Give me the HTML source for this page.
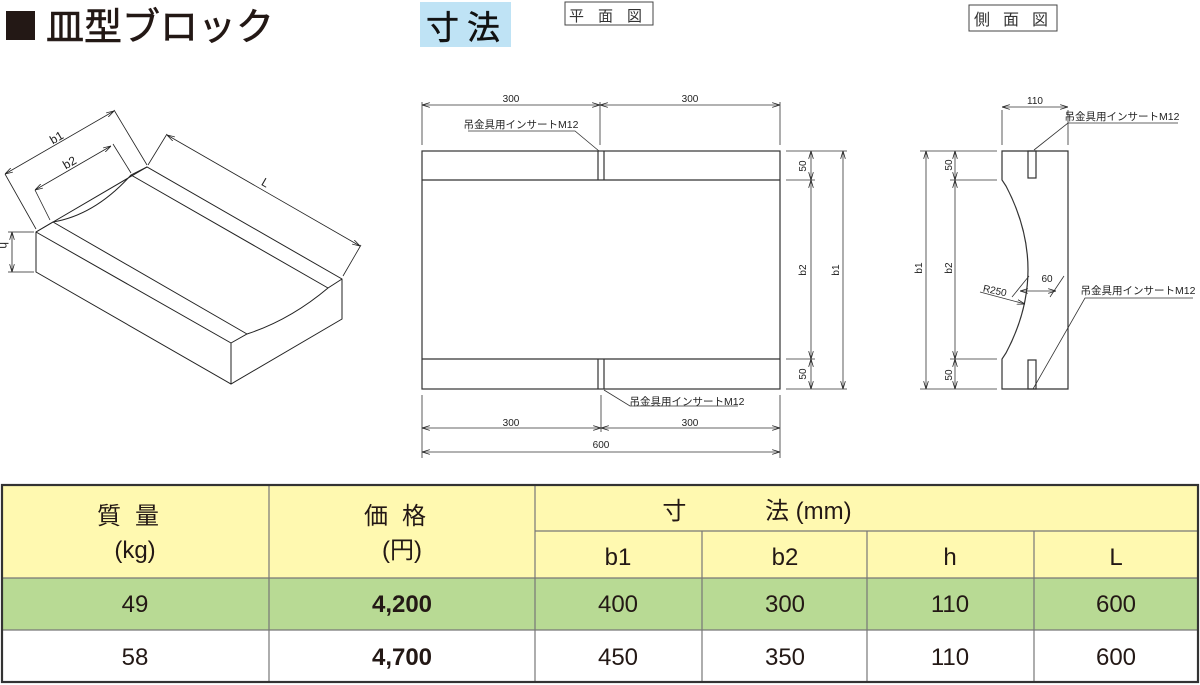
<!DOCTYPE html>
<html><head><meta charset="utf-8"><style>
body{margin:0;background:#fff;}
svg{display:block;font-family:"Liberation Sans","Noto Sans CJK JP",sans-serif;}
</style></head><body>
<svg width="1200" height="685" viewBox="0 0 1200 685" xmlns="http://www.w3.org/2000/svg">
<defs>
<marker id="a" viewBox="0 0 10 6" refX="10" refY="3" markerWidth="8" markerHeight="5" orient="auto-start-reverse" markerUnits="userSpaceOnUse"><path d="M0,0 L10,3 L0,6" fill="none" stroke="#222" stroke-width="1"/></marker>
</defs>
<!-- title -->
<rect x="6" y="11" width="29" height="29" fill="#231815"/>
<text x="46" y="40" font-size="38" fill="#231815" stroke="#231815" stroke-width="0.6">皿型ブロック</text>
<rect x="420" y="2" width="91" height="45" fill="#bfe3f5"/>
<text x="426" y="39" font-size="33" fill="#111" letter-spacing="8" stroke="#111" stroke-width="0.5">寸法</text>
<rect x="565" y="2" width="88" height="23" fill="none" stroke="#444" stroke-width="1"/>
<text x="569" y="21" font-size="15" fill="#333" letter-spacing="14">平面図</text>
<rect x="969" y="5" width="88" height="26" fill="none" stroke="#444" stroke-width="1"/>
<text x="974" y="25" font-size="16" fill="#333" letter-spacing="13">側面図</text>

<!-- isometric block -->
<g fill="none" stroke="#222" stroke-width="1">
<path d="M36,232 L147,167 L342,279 L342,319 L231,384 L36,272 Z"/>
<path d="M36,232 L231,343 L231,384"/>
<path d="M231,343 L247,334 Q290,320 328,288 L342,279"/>
<path d="M36,232 L53,222 Q95,215 131,175 L147,167"/>
<path d="M53,222 L247,334 M131,175 L328,288"/>
<g stroke-width="0.8">
<path d="M36,229 L5,174 M147,165 L114,110"/>
<path d="M5,174 L114,111" marker-start="url(#a)" marker-end="url(#a)"/>
<path d="M50,220 L35,190 M131,173 L113,144"/>
<path d="M35,190 L111,146" marker-start="url(#a)" marker-end="url(#a)"/>
<path d="M148,165 L167,134 M343,276 L361,245"/>
<path d="M167,135 L360,246" marker-start="url(#a)" marker-end="url(#a)"/>
<path d="M8,232 L34,232 M8,272 L34,272"/>
<path d="M12,232 L12,272" marker-start="url(#a)" marker-end="url(#a)"/>
</g>
</g>
<g font-size="12" fill="#222">
<text x="50" y="142" transform="rotate(-30 56 138)">b1</text>
<text x="63" y="167" transform="rotate(-30 69 163)">b2</text>
<text x="262" y="187" transform="rotate(30 266 183)">L</text>
<text x="0" y="250" transform="rotate(90 4 246)">h</text>
</g>

<!-- plan view -->
<g fill="none" stroke="#333" stroke-width="1.2">
<rect x="422" y="151" width="358" height="238"/>
<path d="M422,180 H780 M422,359 H780"/>
<path d="M598,151 V180 M604,151 V180 M598,359 V389 M604,359 V389"/>
</g>
<g fill="none" stroke="#333" stroke-width="0.8">
<path d="M422,102 V145 M600,102 V145 M780,102 V145"/>
<path d="M422,105 H600" marker-start="url(#a)" marker-end="url(#a)"/>
<path d="M600,105 H780" marker-start="url(#a)" marker-end="url(#a)"/>
<path d="M468,131 H575 L599,151" />
<path d="M604,390 L630,406 H738"/>
<path d="M422,395 V458 M601,395 V432 M780,395 V458"/>
<path d="M422,428 H601" marker-start="url(#a)" marker-end="url(#a)"/>
<path d="M601,428 H780" marker-start="url(#a)" marker-end="url(#a)"/>
<path d="M422,452 H780" marker-start="url(#a)" marker-end="url(#a)"/>
<path d="M786,151 H847 M786,180 H815 M786,359 H815 M786,389 H847"/>
<path d="M811,151 V180" marker-start="url(#a)" marker-end="url(#a)"/>
<path d="M811,180 V359" marker-start="url(#a)" marker-end="url(#a)"/>
<path d="M811,359 V389" marker-start="url(#a)" marker-end="url(#a)"/>
<path d="M843,151 V389" marker-start="url(#a)" marker-end="url(#a)"/>
</g>
<g font-size="10" fill="#222" text-anchor="middle">
<text x="511" y="102">300</text><text x="690" y="102">300</text>
<text x="511" y="426">300</text><text x="690" y="426">300</text>
<text x="601" y="448">600</text>
<text x="806" y="166" transform="rotate(-90 806 166)">50</text>
<text x="806" y="374" transform="rotate(-90 806 374)">50</text>
<text x="806" y="270" transform="rotate(-90 806 270)">b2</text>
<text x="839" y="270" transform="rotate(-90 839 270)">b1</text>
<text x="521" y="128" font-size="10.5">吊金具用インサートM12</text>
<text x="687" y="405" font-size="10.5">吊金具用インサートM12</text>
</g>

<!-- side view -->
<g fill="none" stroke="#333" stroke-width="1.2">
<path d="M1002,151 H1068 V389 H1002 V359 L1006,353 Q1050,270 1006,186 L1002,180 Z"/>
<rect x="1028" y="151" width="8" height="27"/>
<rect x="1028" y="360" width="8" height="29"/>
</g>
<g fill="none" stroke="#333" stroke-width="0.8">
<path d="M1002,110 V145 M1068,110 V145"/>
<path d="M1002,107 H1068" marker-start="url(#a)" marker-end="url(#a)"/>
<path d="M920,151 H997 M950,180 H997 M950,359 H997 M920,389 H997"/>
<path d="M955,151 V180" marker-start="url(#a)" marker-end="url(#a)"/>
<path d="M955,180 V359" marker-start="url(#a)" marker-end="url(#a)"/>
<path d="M955,359 V389" marker-start="url(#a)" marker-end="url(#a)"/>
<path d="M926,151 V389" marker-start="url(#a)" marker-end="url(#a)"/>
<path d="M980,292 L1025,304" marker-end="url(#a)"/>
<path d="M1012,297 L1029,276 M1050,297 L1064,276"/>
<path d="M1020,291 H1056" marker-start="url(#a)" marker-end="url(#a)"/>
<path d="M1178,123 H1068 L1034,150"/>
<path d="M1193,298 H1085 L1033,389"/>
</g>
<g font-size="10" fill="#222" text-anchor="middle">
<text x="1035" y="104">110</text>
<text x="952" y="165" transform="rotate(-90 952 165)">50</text>
<text x="952" y="375" transform="rotate(-90 952 375)">50</text>
<text x="952" y="268" transform="rotate(-90 952 268)">b2</text>
<text x="922" y="268" transform="rotate(-90 922 268)">b1</text>
<text x="995" y="294" transform="rotate(12 995 290)">R250</text>
<text x="1047" y="282">60</text>
<text x="1122" y="120" font-size="10.5">吊金具用インサートM12</text>
<text x="1138" y="294" font-size="10.5">吊金具用インサートM12</text>
</g>

<!-- table -->
<rect x="2" y="485" width="1196" height="93" fill="#fff9b0"/>
<rect x="2" y="578" width="1196" height="52" fill="#b8da94"/>
<g stroke="#777" stroke-width="1.2" fill="none">
<path d="M535,531 H1198 M2,578 H1198 M2,630 H1198"/>
<path d="M269,485 V682 M535,485 V682 M702,531 V682 M867,531 V682 M1034,531 V682"/>
</g>
<rect x="2" y="485" width="1196" height="197" fill="none" stroke="#333" stroke-width="2.2"/>
<g font-size="24" fill="#231815" text-anchor="middle">
<text x="135" y="524" letter-spacing="14">質量</text>
<text x="135" y="558">(kg)</text>
<text x="402" y="524" letter-spacing="14">価格</text>
<text x="402" y="558">(円)</text>
<text x="757" y="519">寸　　　 法 (mm)</text>
<text x="618" y="565">b1</text><text x="785" y="565">b2</text><text x="950" y="565">h</text><text x="1116" y="565">L</text>
<text x="135" y="612">49</text><text x="402" y="612" font-weight="bold">4,200</text>
<text x="618" y="612">400</text><text x="785" y="612">300</text><text x="950" y="612">110</text><text x="1116" y="612">600</text>
<text x="135" y="665">58</text><text x="402" y="665" font-weight="bold">4,700</text>
<text x="618" y="665">450</text><text x="785" y="665">350</text><text x="950" y="665">110</text><text x="1116" y="665">600</text>
</g>
</svg>
</body></html>
